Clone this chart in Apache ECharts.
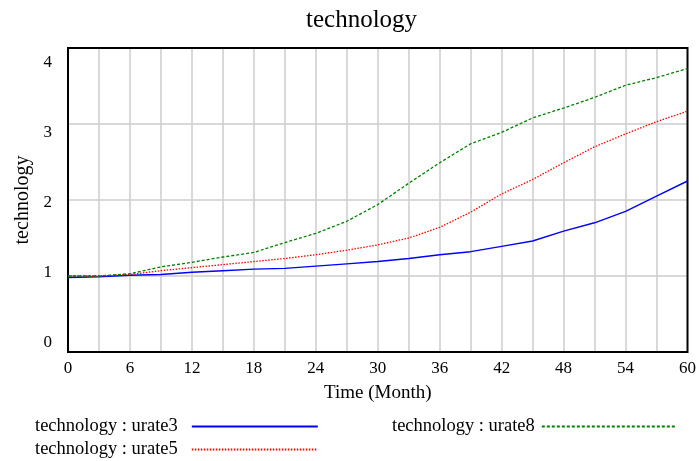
<!DOCTYPE html>
<html>
<head>
<meta charset="utf-8">
<script src="https://cdn.jsdelivr.net/npm/echarts@6/dist/echarts.min.js"></script>
<style>html,body{margin:0;padding:0;background:#fff;}#c{width:699px;height:461px;}</style>
</head>
<body>
<div id="c"></div>
<script>
const months = [0,3,6,9,12,15,18,21,24,27,30,33,36,39,42,45,48,51,54,57,60];
const urate3 = [0.98,0.99,1.01,1.02,1.05,1.07,1.09,1.10,1.13,1.16,1.19,1.23,1.28,1.32,1.39,1.46,1.59,1.70,1.85,2.05,2.25];
const urate5 = [1.00,1.00,1.02,1.07,1.11,1.15,1.19,1.23,1.28,1.34,1.41,1.50,1.64,1.84,2.08,2.27,2.49,2.70,2.87,3.03,3.17];
const urate8 = [1.00,1.00,1.03,1.12,1.18,1.25,1.31,1.44,1.56,1.72,1.94,2.22,2.49,2.74,2.89,3.08,3.21,3.35,3.51,3.61,3.73];
const xTickLabels = [0,6,12,18,24,30,36,42,48,54,60];
const yTickLabels = [0,1,2,3,4];
const seriesNames = ['technology : urate3','technology : urate5','technology : urate8'];

const font = '"Liberation Serif","Times New Roman",serif';
const pair = arr => months.map((m,i)=>[m,arr[i]]);
const legendText = {fontFamily:font,fontSize:18.5,color:'#000'};
function mkLegend(name,left,top,w,gap){
  return {data:[name],left:left,top:top,align:'right',itemWidth:w,itemHeight:10,padding:0,
    itemStyle:{opacity:0},
    textStyle:Object.assign({padding:[0,gap,0,0]},legendText)};
}

const chart = echarts.init(document.getElementById('c'));
chart.setOption({
  animation:false,
  backgroundColor:'#fff',
  title:{text:'technology',left:306,top:8,padding:0,textStyle:{fontFamily:font,fontSize:25,fontWeight:'normal',color:'#000'}},
  grid:{left:68,right:11,top:48,bottom:109,show:true,borderColor:'#000',borderWidth:2,backgroundColor:'transparent',z:3},
  legend:[
    mkLegend(seriesNames[0],35,417,126,9),
    mkLegend(seriesNames[2],392,417,135,2),
    mkLegend(seriesNames[1],35,440,126,9)
  ],
  xAxis:{type:'value',min:0,max:60,interval:3,
    name:'Time (Month)',nameLocation:'middle',nameGap:32,
    nameTextStyle:{fontFamily:font,fontSize:19,color:'#000'},
    axisLine:{show:false},axisTick:{show:false},
    axisLabel:{customValues:xTickLabels,fontFamily:font,fontSize:17,color:'#000',margin:8},
    splitLine:{show:true,showMinLine:false,showMaxLine:false,lineStyle:{color:'#cccccc',width:1.5}}},
  yAxis:[
    {type:'value',min:0,max:4,interval:1,
     name:'technology',nameLocation:'middle',nameGap:35,
     nameTextStyle:{fontFamily:font,fontSize:20,color:'#000'},
     axisLine:{show:false},axisTick:{show:false},axisLabel:{show:false},
     splitLine:{show:true,showMinLine:false,showMaxLine:false,lineStyle:{color:'#cccccc',width:1.5}}},
    {type:'value',position:'left',min:-0.1286,max:4.214,offset:0,
     axisLine:{show:false},axisTick:{show:false},splitLine:{show:false},
     axisLabel:{customValues:yTickLabels,fontFamily:font,fontSize:17,color:'#000',margin:16}}
  ],
  series:[
    {name:seriesNames[0],type:'line',data:pair(urate3),showSymbol:false,symbol:'none',
     lineStyle:{color:'#0000ff',width:1.4,type:'solid'},itemStyle:{color:'#0000ff'}},
    {name:seriesNames[1],type:'line',data:pair(urate5),showSymbol:false,symbol:'none',
     lineStyle:{color:'#ff0000',width:1.3,type:[1.5,1.5]},itemStyle:{color:'#ff0000'}},
    {name:seriesNames[2],type:'line',data:pair(urate8),showSymbol:false,symbol:'none',
     lineStyle:{color:'#008000',width:1.3,type:[3,2]},itemStyle:{color:'#008000'}}
  ]
});
</script>
</body>
</html>
